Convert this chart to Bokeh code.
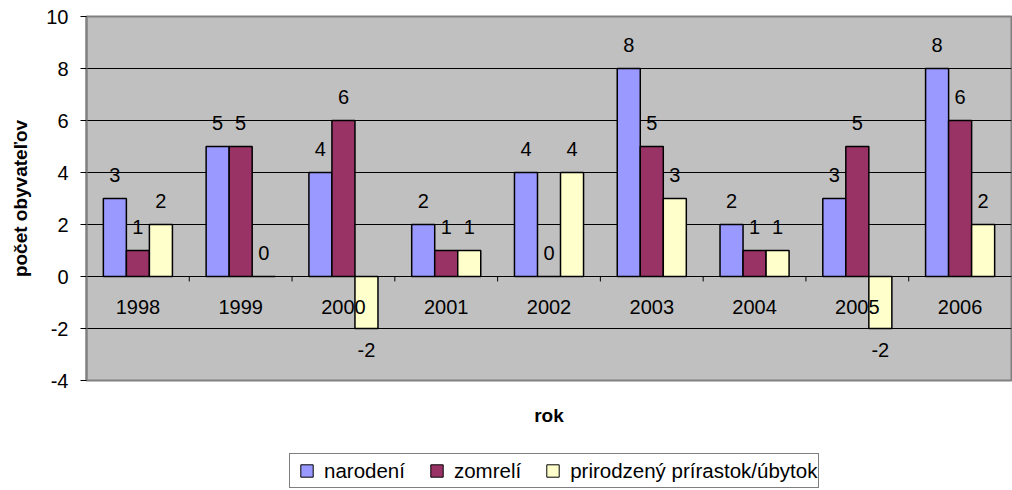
from bokeh.plotting import figure
from bokeh.layouts import column
from bokeh.models import ColumnDataSource, FixedTicker, Legend, LegendItem
from bokeh.embed import file_html
from bokeh.resources import INLINE
from bokeh.core.properties import value

years = ["1998", "1999", "2000", "2001", "2002", "2003", "2004", "2005", "2006"]
narodeni = [3, 5, 4, 2, 4, 8, 2, 3, 8]
zomreli = [1, 5, 6, 1, 0, 5, 1, 5, 6]
prirastok = [2, 0, -2, 1, 4, 3, 1, -2, 2]
series_names = ["narodení", "zomrelí", "prirodzený prírastok/úbytok"]
colors = ["#9999FF", "#993366", "#FFFFCC"]
y_ticks = [-4, -2, 0, 2, 4, 6, 8, 10]

FONT = "Liberation Sans"
BW = 0.224

p = figure(frame_width=925, frame_height=364,
           output_backend="svg", toolbar_location=None,
           x_range=(-0.5, len(years) - 0.5), y_range=(-4, 10),
           min_border_left=86, min_border_right=1, min_border_top=16, min_border_bottom=50)
p.border_fill_color = "white"
p.background_fill_color = "#C0C0C0"
p.outline_line_color = "#808080"
p.outline_line_width = 2

p.xgrid.visible = False
p.ygrid.ticker = FixedTicker(ticks=y_ticks)
p.ygrid.grid_line_color = "black"
p.ygrid.grid_line_width = 1

yax = p.yaxis[0]
yax.ticker = FixedTicker(ticks=y_ticks)
yax.major_label_overrides = {t: str(t) for t in y_ticks}
yax.major_label_text_font = FONT
yax.major_label_text_font_size = "20px"
yax.major_label_text_color = "black"
yax.major_label_standoff = 12
yax.major_tick_out = 6
yax.major_tick_in = 0
yax.minor_tick_out = 0
yax.minor_tick_in = 0
yax.major_tick_line_color = "black"
yax.axis_line_color = "#808080"
yax.axis_line_width = 2
yax.axis_label = "počet obyvateľov"
yax.axis_label_text_font = FONT
yax.axis_label_text_font_size = "19px"
yax.axis_label_text_font_style = "bold"
yax.axis_label_text_color = "black"
yax.axis_label_standoff = 12

xax = p.xaxis[0]
xax.ticker = FixedTicker(ticks=[])
xax.axis_line_color = None
xax.major_tick_line_color = None
xax.minor_tick_line_color = None
xax.major_label_text_font_size = "0px"
xax.axis_label = "rok"
xax.axis_label_text_font = FONT
xax.axis_label_text_font_size = "19px"
xax.axis_label_text_font_style = "bold"
xax.axis_label_text_color = "black"
xax.axis_label_standoff = 24

# zero line and category tick marks
idx = list(range(len(years)))
p.line(x=[-0.5, len(years) - 0.5], y=[0, 0], line_color="black", line_width=1.2)
bounds = [i + 0.5 for i in idx[:-1]]
p.segment(x0=bounds, x1=bounds, y0=[0] * len(bounds), y1=[-0.19] * len(bounds),
          line_color="black", line_width=1)

for k, (vals, col) in enumerate(zip([narodeni, zomreli, prirastok], colors)):
    xs = [i + (k - 1) * BW for i in idx]
    src = ColumnDataSource(dict(x=xs, top=vals,
                                lab=[str(v) for v in vals],
                                yoff=[21 if v < 0 else -23.5 for v in vals]))
    p.vbar(x="x", top="top", bottom=0, width=BW, source=src,
           fill_color=col, line_color="black", line_width=1.5)
    p.text(x="x", y="top", text="lab", y_offset="yoff", source=src,
           text_font=value(FONT), text_font_size="20px", text_color="black",
           text_align="center", text_baseline="middle")

# category labels inside plot
ysrc = ColumnDataSource(dict(x=idx, y=[0] * len(idx), t=years))
p.text(x="x", y="y", text="t", y_offset=30, source=ysrc,
       text_font=value(FONT), text_font_size="20px", text_color="black",
       text_align="center", text_baseline="middle")

# legend strip below the chart (zero-size placeholder markers outside its visible range)
lg = figure(width=1012, height=60, output_backend="svg", toolbar_location=None,
            x_range=(0, 1), y_range=(0, 1),
            min_border_left=0, min_border_right=0, min_border_top=0, min_border_bottom=0)
lg.axis.visible = False
lg.grid.visible = False
lg.outline_line_color = None
lg.background_fill_color = "white"
lg.border_fill_color = "white"
leg_renderers = []
for col in colors:
    leg_renderers.append(lg.scatter(x=[-5], y=[-5], size=0, marker="square",
                                    fill_color=col, line_color="black", line_width=1))

legend = Legend(items=[LegendItem(label=n, renderers=[r]) for n, r in zip(series_names, leg_renderers)],
                orientation="horizontal", location=(203, 2))
legend.label_text_font = FONT
legend.label_text_font_size = "20.5px"
legend.label_text_color = "black"
legend.glyph_width = 31
legend.glyph_height = 31
legend.label_standoff = 2
legend.spacing = 16
legend.padding = 1
legend.margin = 0
legend.border_line_color = "black"
legend.border_line_width = 1
legend.background_fill_color = "white"
legend.background_fill_alpha = 1
lg.add_layout(legend, "center")

layout = column(p, lg, spacing=0)
open("out.html", "w").write(file_html(layout, INLINE))
